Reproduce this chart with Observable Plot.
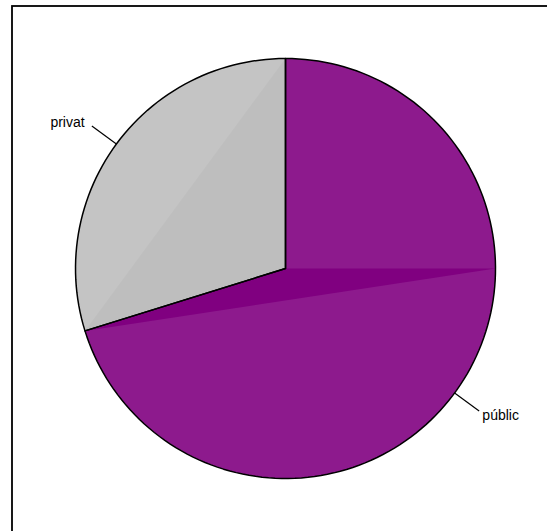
<!DOCTYPE html>
<html><head><meta charset="utf-8">
<script src="https://cdn.jsdelivr.net/npm/d3@7"></script>
<script src="https://cdn.jsdelivr.net/npm/@observablehq/plot@0.6"></script>
<style>html,body{margin:0;padding:0;background:#fff;overflow:hidden}</style>
</head><body><div id="chart"></div>
<script>
const categories = ["públic", "privat"];
const values = [70.2, 29.8];
const sliceColors = ["#8d1a8d", "#c4c4c4"];
const flatColors = ["#800080", "#bebebe"];

const total = d3.sum(values);
const ends = Array.from(d3.cumsum(values), v => v / total);
const starts = [0, ...ends.slice(0, -1)];
const pt = (t, k = 1) => { const a = Math.PI / 2 - 2 * Math.PI * t; return {x: k * Math.cos(a), y: k * Math.sin(a)}; };

const polys = [];
categories.forEach((c, i) => {
  const t0 = starts[i], t1 = ends[i];
  const n = Math.max(2, Math.ceil((t1 - t0) * 200));
  polys.push({slice: c, x: 0, y: 0, fill: sliceColors[i]});
  for (let j = 0; j <= n; j++) polys.push({slice: c, ...pt(t0 + (t1 - t0) * j / n), fill: sliceColors[i]});
  polys.push({slice: c, x: 0, y: 0, fill: sliceColors[i]});
});

// flat (untextured) inner regions
const flats = [
  {slice: categories[0], pts: [{x:0,y:0}, pt(0.25), pt(ends[0])], fill: flatColors[0]},
  {slice: categories[1], pts: [{x:0,y:0}, pt(ends[0]), pt(1)], fill: flatColors[1]}
].flatMap(f => [...f.pts, f.pts[0]].map(p => ({slice: f.slice, ...p, fill: f.fill})));

const labels = categories.map((c, i) => {
  const m = (starts[i] + ends[i]) / 2;
  const a = pt(m, 1), b = pt(m, 1.145), l = pt(m, 1.17);
  return {label: c, x1: a.x, y1: a.y, x2: b.x, y2: b.y, lx: l.x, ly: l.y, right: l.x >= 0};
});

const chart = Plot.plot({
  width: 547, height: 531,
  marginLeft: 75, marginRight: 52, marginTop: 58, marginBottom: 53,
  x: {domain: [-1, 1], axis: null},
  y: {domain: [-1, 1], axis: null},
  color: {type: "identity"},
  style: {overflow: "hidden", fontFamily: "'Liberation Sans', Arial, sans-serif", background: "#fff"},
  marks: [
    Plot.line(polys, {x: "x", y: "y", z: "slice", fill: "fill", stroke: "none", curve: "linear-closed"}),
    Plot.line(flats, {x: "x", y: "y", z: "slice", fill: "fill", stroke: "none", curve: "linear-closed"}),
    Plot.line(polys, {x: "x", y: "y", z: "slice", stroke: "black", strokeWidth: 1.5, fill: "none", strokeLinejoin: "round", curve: "linear-closed"}),
    Plot.link(labels, {x1: "x1", y1: "y1", x2: "x2", y2: "y2", stroke: "black", strokeWidth: 1.2}),
    Plot.text(labels.filter(d => d.right), {x: "lx", y: "ly", text: "label", textAnchor: "start", dx: -1, dy: 1, fontSize: 14, fill: "black"}),
    Plot.text(labels.filter(d => !d.right), {x: "lx", y: "ly", text: "label", textAnchor: "end", dx: -3, fontSize: 14, fill: "black"}),
    Plot.frame({insetLeft: -63.5, insetTop: -52.5, insetRight: -70, insetBottom: -70, stroke: "black", strokeWidth: 1.8})
  ]
});
document.getElementById("chart").appendChild(chart);
</script></body></html>
